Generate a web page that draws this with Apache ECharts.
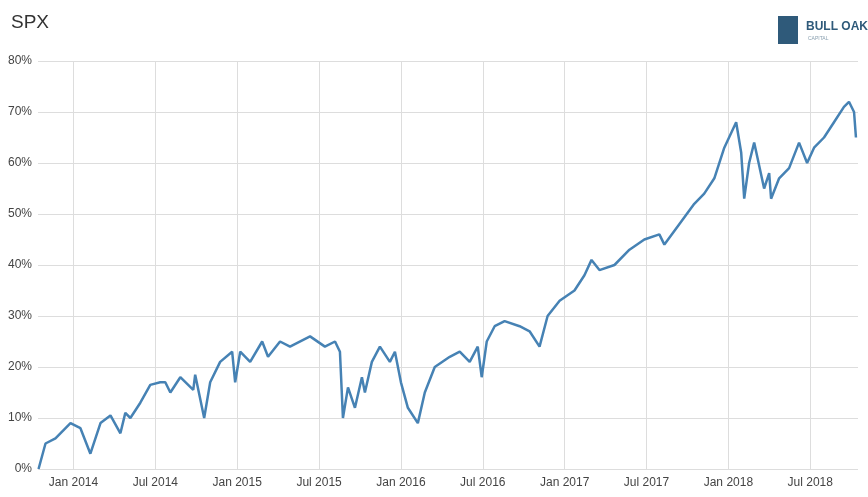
<!DOCTYPE html>
<html><head><meta charset="utf-8">
<script src="https://cdn.jsdelivr.net/npm/echarts@6/dist/echarts.min.js"></script>
<style>html,body{margin:0;padding:0;background:#fff}#c{width:868px;height:497px}</style>
</head><body><div id="c"></div>
<script>
// x: months since Jan 2014
const months = [-2.56,-2.05,-1.32,-0.22,0.51,1.24,1.98,2.71,3.44,3.8,4.17,4.9,5.63,6.36,6.73,7.1,7.83,8.78,8.92,9.58,10.02,10.75,11.63,11.85,12.22,12.95,13.83,14.26,15.14,15.87,17.34,18.43,19.17,19.53,19.75,20.12,20.63,21.14,21.36,21.87,22.46,23.19,23.56,24.0,24.51,25.24,25.75,26.48,27.58,28.31,29.04,29.63,29.92,30.29,30.87,31.6,32.7,33.43,34.16,34.75,35.63,36.72,37.45,37.97,38.55,39.65,40.75,41.84,42.94,43.31,44.4,45.5,46.23,46.97,47.7,48.57,48.94,49.16,49.52,49.89,50.62,50.99,51.13,51.72,52.45,53.18,53.77,54.28,55.01,55.74,56.47,56.84,57.21,57.35];
const values = [0,5,6,9,8,3,9,10.5,7,11,10,13,16.5,17,17,15,18,15.5,18.5,10,17,21,23,17,23,21,25,22,25,24,26,24,25,23,10,16,12,18,15,21,24,21,23,17,12,9,15,20,22,23,21,24,18,25,28,29,28,27,24,30,33,35,38,41,39,40,43,45,46,44,48,52,54,57,63,68,62,53,60,64,55,58,53,57,59,64,60,63,65,68,71,72,70,65];
const tickMonths = [0,6,12,18,24,30,36,42,48,54];
const tickLabels = ['Jan 2014','Jul 2014','Jan 2015','Jul 2015','Jan 2016','Jul 2016','Jan 2017','Jul 2017','Jan 2018','Jul 2018'];
const data = months.map((m,i)=>[m,values[i]]);
const chart = echarts.init(document.getElementById('c'));
chart.setOption({
  animation:false,
  title:{text:'SPX',left:6,top:8,textStyle:{fontFamily:'Helvetica, Arial, sans-serif',fontSize:19,fontWeight:'normal',color:'#333'}},
  graphic:[
    {type:'rect',left:778,top:16,shape:{width:20,height:28},style:{fill:'#2f5a7a'}},
    {type:'text',left:806,top:21,style:{text:'BULL OAK',fill:'#2f5a7a',font:'bold 12px Arial'}},
    {type:'text',left:808,top:36,style:{text:'CAPITAL',fill:'#8aa0b0',font:'5px Arial'}}
  ],
  grid:{left:38,right:10,top:61,bottom:28},
  xAxis:{type:'value',min:-2.6,max:57.5,
    axisLine:{show:false},
    axisTick:{show:false,customValues:tickMonths},
    splitLine:{show:true,lineStyle:{color:'#ddd'}},
    axisLabel:{customValues:tickMonths,color:'#444',fontSize:12,fontFamily:'Arial',
      formatter:v=>tickLabels[tickMonths.indexOf(Math.round(v))]||''}},
  yAxis:{type:'value',min:0,max:80,interval:10,
    axisLine:{show:false},axisTick:{show:false},
    splitLine:{lineStyle:{color:'#ddd'}},
    axisLabel:{formatter:'{value}%',color:'#444',fontSize:12,fontFamily:'Arial',margin:6}},
  series:[{type:'line',data:data,showSymbol:false,lineStyle:{color:'#4682b4',width:2.5},itemStyle:{color:'#4682b4'}}]
});
</script></body></html>
